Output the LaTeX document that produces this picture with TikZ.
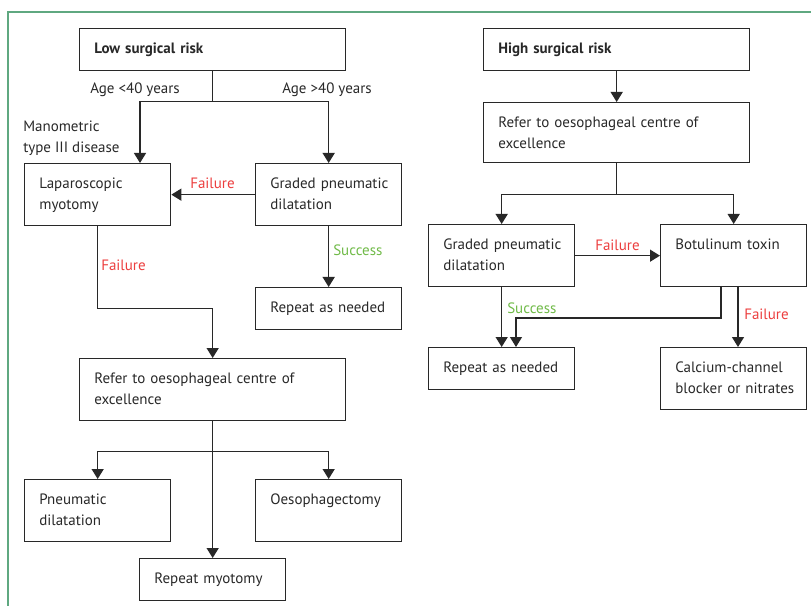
\documentclass[tikz,border=0pt]{standalone}
\usepackage{fontspec}
\setmainfont{PT Sans}
\usetikzlibrary{arrows.meta}
\definecolor{framegreen}{RGB}{95,168,128}
\definecolor{failred}{RGB}{236,62,62}
\definecolor{succgreen}{RGB}{112,186,72}
\definecolor{inkgray}{RGB}{40,40,40}
\tikzset{
  box/.style={draw=inkgray, line width=1pt, anchor=north west, inner xsep=11pt, inner ysep=0pt,
    align=left, text height=18.75pt, text=inkgray, font=\fontsize{11.25}{15.75}\selectfont,
    execute at begin node={\hyphenpenalty=10000}},
  narrow/.style={box, text width=87.5pt},
  wide/.style={box, text width=177.5pt},
  short/.style={text depth=12.75pt},
  tall/.style={text depth=27.75pt},
  link/.style={draw=inkgray, line width=1pt},
  arr/.style={link, -{Triangle[length=7.5pt,width=9pt]}},
  lbl/.style={anchor=base west, inner sep=0pt, text=inkgray, font=\fontsize{11.25}{15.75}\selectfont},
  fail/.style={lbl, text=failred},
  succ/.style={lbl, text=succgreen}
}
\begin{document}
\begin{tikzpicture}[x=0.75pt,y=0.75pt,yscale=-1,xscale=1]
        \useasboundingbox (0,0) rectangle (811,606);
        %Frame
        \draw [framegreen, line width=1.2pt] (8,606) -- (8,12) -- (811,12) ;

        %Shape: Rectangle (left column)
        \node [wide, short] (lowrisk) at (79,28) {\textbf{Low surgical risk}};
        \node [narrow, tall] (lapmyo) at (24,163) {Laparoscopic\\myotomy};
        \node [narrow, tall] (gradedL) at (255,163) {Graded~pneumatic\\dilatation};
        \node [narrow, short] (repeatL) at (255,287) {Repeat as needed};
        \node [wide, tall] (referL) at (79,358) {Refer to oesophageal centre of\\excellence};
        \node [narrow, tall] (pneum) at (24,479) {Pneumatic\\dilatation};
        \node [narrow, tall] (oesoph) at (255,479) {Oesophagectomy};
        \node [narrow, short] (repmyo) at (139,558) {Repeat myotomy};
        %Shape: Rectangle (right column)
        \node [wide, short] (highrisk) at (483,28) {\textbf{High surgical risk}};
        \node [wide, text depth=26.25pt] (referR) at (483,102) {Refer to oesophageal centre of\\excellence};
        \node [narrow, tall] (gradedR) at (428,224) {Graded~pneumatic\\dilatation};
        \node [narrow, tall] (botox) at (660,224) {Botulinum toxin};
        \node [narrow, short] (repeatR) at (428,347) {Repeat as needed};
        \node [narrow, tall] (calcium) at (660,347) {Calcium-channel\\blocker~or~nitrates};

        \path (lowrisk.south) ++(0,30) coordinate (splitL);
        \path (referL.south) ++(0,30) coordinate (forkL);
        \path (referR.south) ++(0,31) coordinate (forkR);
        \coordinate (lapin) at (140,163);
        \coordinate (botL) at (721,286);
        \coordinate (botR) at (738,286);
        \coordinate (repin) at (516,347);
        \coordinate (calin) at (738,347);

        %Straight Lines (left)
        \draw [link] (lowrisk.south) -- (splitL) ;
        \draw [arr] (splitL) -| (lapin) ;
        \draw [arr] (splitL) -| (gradedL.north) ;
        \draw [arr] (gradedL.west) -- (lapmyo.east) ;
        \draw [arr] (gradedL.south) -- (repeatL.north) ;
        \draw [arr] (lapmyo.south) -- ++(0,82) -| (referL.north) ;
        \draw [arr] (referL.south) -- (repmyo.north) ;
        \draw [arr] (forkL) -| (pneum.north) ;
        \draw [arr] (forkL) -| (oesoph.north) ;
        %Straight Lines (right)
        \draw [arr] (highrisk.south) -- (referR.north) ;
        \draw [link] (referR.south) -- (forkR) ;
        \draw [arr] (forkR) -| (gradedR.north) ;
        \draw [arr] (forkR) -| (botox.north) ;
        \draw [arr] (gradedR.east) -- (botox.west) ;
        \draw [arr] (gradedR.south) -- (repeatR.north) ;
        \draw [arr] (botL) -- ++(0,32) -| (repin) ;
        \draw [arr] (botR) -- (calin) ;

        % Text Node
        \node [lbl] (agelow) at (90,94) {Age <40 years};
        % Text Node
        \node [lbl] (agehigh) at (282,94) {Age >40 years};
        % Text Node
        \node [lbl, align=left] (mano) at (23,153) {Manometric\\type III disease};
        % Text Node
        \node [fail] (failA) at (190,189) {Failure};
        % Text Node
        \node [fail] (failB) at (101,271) {Failure};
        % Text Node
        \node [succ] (succA) at (333,256) {Success};
        % Text Node
        \node [fail] (failC) at (595,251) {Failure};
        % Text Node
        \node [succ] (succB) at (507,313) {Success};
        % Text Node
        \node [fail] (failD) at (744,320) {Failure};
\end{tikzpicture}
\end{document}
